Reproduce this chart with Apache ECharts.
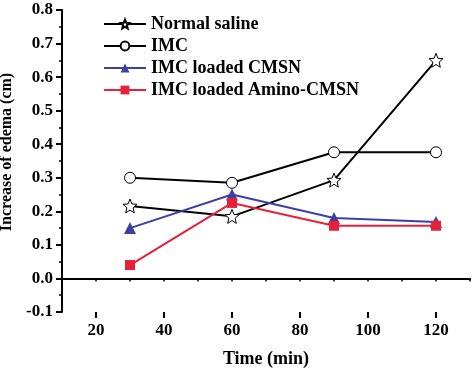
<!DOCTYPE html>
<html><head><meta charset="utf-8">
<script src="https://cdn.jsdelivr.net/npm/echarts@6/dist/echarts.min.js"></script>
<style>html,body{margin:0;padding:0;background:#fff}#c{width:474px;height:369px}</style>
</head><body><div id="c"></div>
<script>
const times = [30, 60, 90, 120];
const normalSaline = [0.216, 0.185, 0.293, 0.65];
const imc = [0.30, 0.285, 0.376, 0.376];
const imcCMSN = [0.15, 0.25, 0.18, 0.168];
const imcAminoCMSN = [0.04, 0.225, 0.157, 0.157];
const seriesNames = ['Normal saline', 'IMC', 'IMC loaded CMSN', 'IMC loaded Amino-CMSN'];
const xTickLabels = [20, 40, 60, 80, 100, 120];

const star = 'path://M50,0L63,32L97.6,34.5L71,57L79.4,90.5L50,72L20.6,90.5L29,57L2.4,34.5L37,32Z';
const font = '"Liberation Serif", "Times New Roman", serif';
const pairs = arr => times.map((t, i) => [t, arr[i]]);

const chart = echarts.init(document.getElementById('c'), null, {renderer: 'canvas'});
const mk = (name, data, color, symbol, size, fill) => ({
  name, type: 'line', data: pairs(data), symbol, symbolSize: size,
  lineStyle: {color, width: 2},
  itemStyle: {color: fill, borderColor: color, borderWidth: fill === '#fff' ? 1 : 0},
  emphasis: {disabled: true}, z: 3
});
chart.setOption({
  animation: false,
  grid: {left: 62, right: 4, top: 10, bottom: 57, containLabel: false, outerBoundsMode: 'none'},
  legend: {
    orient: 'vertical', left: 98, top: 10, itemGap: 4, itemWidth: 42, itemHeight: 11,
    textStyle: {fontFamily: font, fontWeight: 'bold', fontSize: 18, color: '#000'},
    data: seriesNames
  },
  xAxis: [{
    type: 'value', min: 10, max: 130, interval: 10,
    name: 'Time (min)', nameLocation: 'middle', nameGap: 38,
    nameTextStyle: {fontFamily: font, fontWeight: 'bold', fontSize: 18, color: '#000'},
    axisLine: {show: true, lineStyle: {color: '#000', width: 2}},
    axisTick: {show: true, inside: false, length: 3, lineStyle: {color: '#000', width: 1.5}},
    axisLabel: {fontFamily: font, fontWeight: 'bold', fontSize: 17, color: '#000', margin: 10,
      customValues: xTickLabels},
    splitLine: {show: false}
  }, {
    type: 'value', min: 10, max: 130, position: 'bottom',
    axisLine: {show: false},
    axisTick: {show: true, inside: false, length: 6, customValues: xTickLabels,
      lineStyle: {color: '#000', width: 2}},
    axisLabel: {show: false},
    splitLine: {show: false}
  }],
  yAxis: {
    type: 'value', min: -0.1, max: 0.8, interval: 0.1,
    name: 'Increase of edema (cm)', nameLocation: 'middle', nameGap: 39,
    nameTextStyle: {fontFamily: font, fontWeight: 'bold', fontSize: 16, color: '#000',
      padding: [0, 0, 0, 18]},
    axisLine: {show: true, lineStyle: {color: '#000', width: 2}},
    axisTick: {show: true, inside: false, length: 6, lineStyle: {color: '#000', width: 2}},
    minorTick: {show: true, splitNumber: 2, length: 3, lineStyle: {color: '#000', width: 1.5}},
    axisLabel: {fontFamily: font, fontWeight: 'bold', fontSize: 17, color: '#000', margin: 9,
      formatter: v => v.toFixed(1)},
    splitLine: {show: false}
  },
  series: [
    mk(seriesNames[0], normalSaline, '#000', star, 14, '#fff'),
    mk(seriesNames[1], imc, '#000', 'circle', 11, '#fff'),
    mk(seriesNames[2], imcCMSN, '#3b3fa6', 'triangle', 12, '#3b3fa6'),
    mk(seriesNames[3], imcAminoCMSN, '#e8203a', 'rect', 10, '#e8203a')
  ]
});
</script></body></html>
